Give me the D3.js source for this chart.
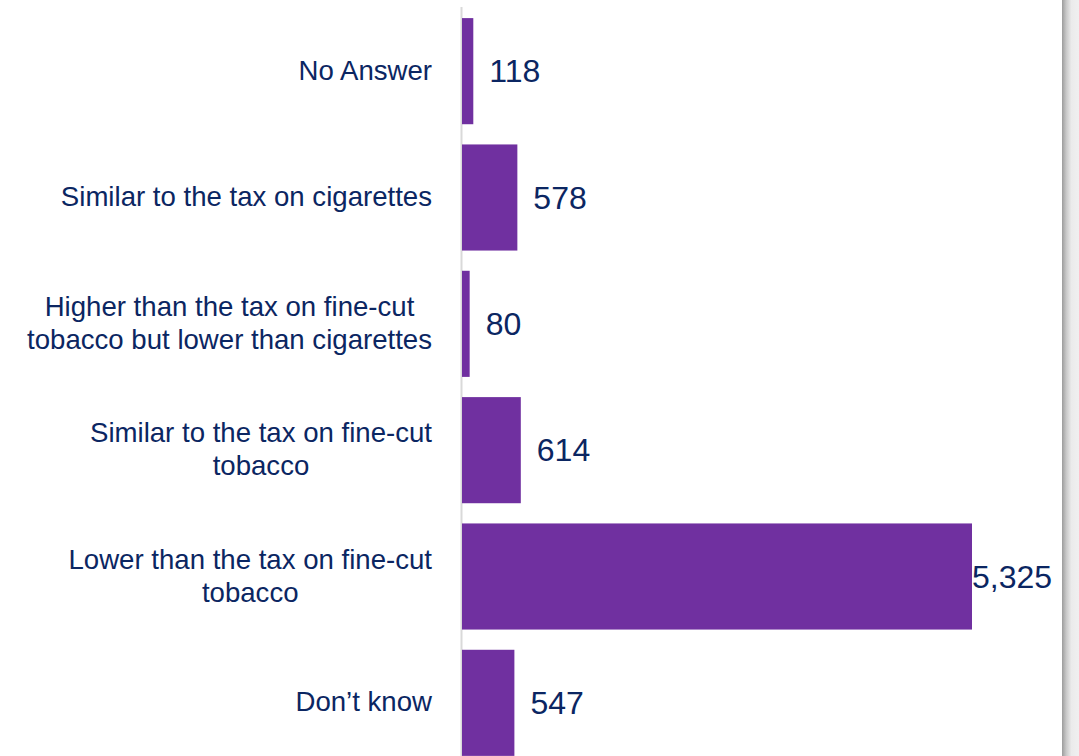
<!DOCTYPE html>
<html>
<head>
<meta charset="utf-8">
<script src="https://cdn.jsdelivr.net/npm/d3@7"></script>
<style>
  html, body { margin: 0; padding: 0; background: #ffffff; }
  svg { display: block; }
</style>
</head>
<body>
<svg id="chart" width="1079" height="756"></svg>
<script>
// Survey answers and their response counts (top to bottom)
const categories = [
  "No Answer",
  "Similar to the tax on cigarettes",
  "Higher than the tax on fine-cut tobacco but lower than cigarettes",
  "Similar to the tax on fine-cut tobacco",
  "Lower than the tax on fine-cut tobacco",
  "Don\u2019t know"
];
const labelLines = [
  ["No Answer"],
  ["Similar to the tax on cigarettes"],
  ["Higher than the tax on fine-cut", "tobacco but lower than cigarettes"],
  ["Similar to the tax on fine-cut", "tobacco"],
  ["Lower than the tax on fine-cut", "tobacco"],
  ["Don\u2019t know"]
];
const counts = [118, 578, 80, 614, 5325, 547];

const W = 1079, H = 756;
const svg = d3.select("#chart");

const barColor = "#7030a0";
const textColor = "#0b2662";
const fontFamily = "'Liberation Sans', Arial, sans-serif";

const axisX = 462;
const plotRight = 972;
const labelRight = 432;
const frameX = 1062;

const y = d3.scaleBand()
  .domain(categories)
  .range([8, 766])
  .paddingInner(0.16)
  .paddingOuter(0.08);

const x = d3.scaleLinear()
  .domain([0, d3.max(counts)])
  .range([axisX, plotRight]);

const data = categories.map((c, i) => ({ cat: c, value: counts[i], lines: labelLines[i] }));

// Right frame edge with soft shading
const defs = svg.append("defs");
const grad = defs.append("linearGradient").attr("id", "edgeShade")
  .attr("x1", "0").attr("x2", "1").attr("y1", "0").attr("y2", "0");
grad.append("stop").attr("offset", "0%").attr("stop-color", "#9c9c9c");
grad.append("stop").attr("offset", "25%").attr("stop-color", "#c8c8c8");
grad.append("stop").attr("offset", "55%").attr("stop-color", "#ebebeb");
grad.append("stop").attr("offset", "100%").attr("stop-color", "#f0f0f0");
svg.append("rect")
  .attr("x", frameX).attr("y", 0)
  .attr("width", W - frameX).attr("height", H)
  .attr("fill", "url(#edgeShade)");

// Category axis line
svg.append("line")
  .attr("x1", axisX - 0.5).attr("x2", axisX - 0.5)
  .attr("y1", 7).attr("y2", H)
  .attr("stroke", "#d9d9d9")
  .attr("stroke-width", 2);

// Bars
svg.append("g").selectAll("rect")
  .data(data)
  .join("rect")
  .attr("x", x(0))
  .attr("y", d => y(d.cat))
  .attr("width", d => x(d.value) - x(0))
  .attr("height", y.bandwidth())
  .attr("fill", barColor);

// Value labels
const fmt = d3.format(",");
const valueLabels = svg.append("g").selectAll("text")
  .data(data)
  .join("text")
  .attr("y", d => y(d.cat) + y.bandwidth() / 2)
  .attr("dy", "0.35em")
  .attr("font-family", fontFamily)
  .attr("font-size", 32)
  .attr("fill", textColor)
  .text(d => fmt(d.value));
valueLabels.each(function (d) {
  const w = this.getComputedTextLength();
  const pos = Math.min(x(d.value) + 16, frameX - 10 - w);
  d3.select(this).attr("x", Math.max(pos, x(d.value)));
});

// Category labels: lines centred within a block right-aligned to the axis
const catGroups = svg.append("g").selectAll("text")
  .data(data)
  .join("text")
  .attr("font-family", fontFamily)
  .attr("font-size", 27.6)
  .attr("fill", textColor)
  .attr("text-anchor", "middle");

const lineH = 33;
catGroups.each(function (d) {
  const t = d3.select(this);
  const cy = y(d.cat) + y.bandwidth() / 2 - 1;
  const n = d.lines.length;
  d.lines.forEach((ln, i) => {
    t.append("tspan")
      .attr("y", cy + (i - (n - 1) / 2) * lineH)
      .attr("dy", "0.35em")
      .text(ln);
  });
  const widths = [];
  t.selectAll("tspan").each(function () { widths.push(this.getComputedTextLength()); });
  const cx = labelRight - d3.max(widths) / 2;
  t.selectAll("tspan").attr("x", cx);
});
</script>
</body>
</html>
